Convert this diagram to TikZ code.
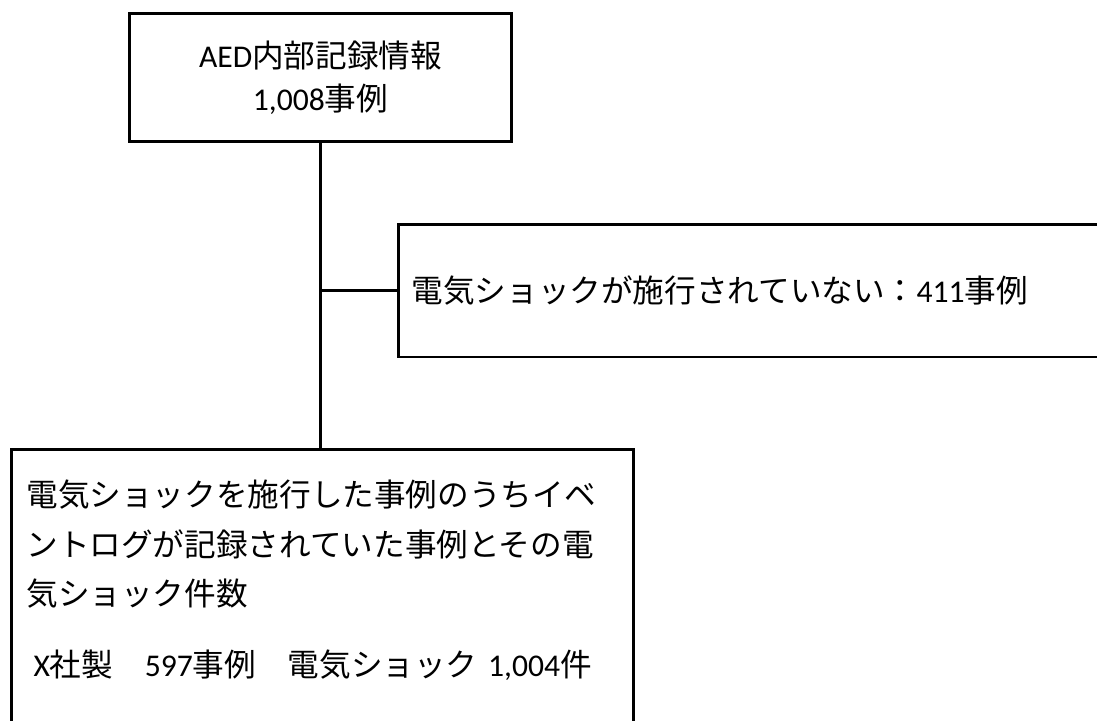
\documentclass[tikz,border=0pt]{standalone}
\usepackage{fontspec}
\setmainfont{Noto Sans CJK JP}
\newfontfamily\lat{Carlito}
\usetikzlibrary{shapes,arrows}
\tikzstyle{block} = [rectangle, draw, line width=1.7pt, inner sep=0pt]
\tikzstyle{line} = [draw, line width=1.7pt]

\begin{document}
\begin{tikzpicture}[x=0.02cm, y=-0.02cm, font=\fontsize{18}{28.4}\selectfont]
			\useasboundingbox (0,0) rectangle (1097,720);
			\clip (0,0) rectangle (1097,720);
			% Place nodes
			\node [block, minimum width=7.66cm, minimum height=2.58cm, align=center,
				font=\fontsize{18}{24.4}\selectfont] (aed) at (320.5,77.5)
				{{\lat AED}内部記録情報\\{\lat 1,008}事例};
			\node [block, anchor=west, minimum width=15cm, minimum height=2.66cm,
				text width=14.48cm, inner xsep=0.26cm, align=left] (noshock) at (397,290.5)
				{電気ショックが施行されていない：{\lat 411}事例};
			\node [block, anchor=north west, text width=11.84cm, inner xsep=0.3cm,
				inner ysep=0.6cm, align=left] (shock) at (10,448)
				{電気ショックを施行した事例のうちイベ\\
				 ントログが記録されていた事例とその電\\
				 気ショック件数\\[11.6pt]
				 \hspace*{4pt}{\lat X}社製　{\lat 597}事例　電気ショック {\lat 1,004}件\rule[-2cm]{0pt}{2cm}};
			\coordinate (branch) at (aed.south |- noshock.west);
			% Draw edges
			\path [line] (aed.south) -- (aed.south |- shock.north);
			\path [line] (branch) -- (noshock.west);
	\end{tikzpicture}
\end{document}
